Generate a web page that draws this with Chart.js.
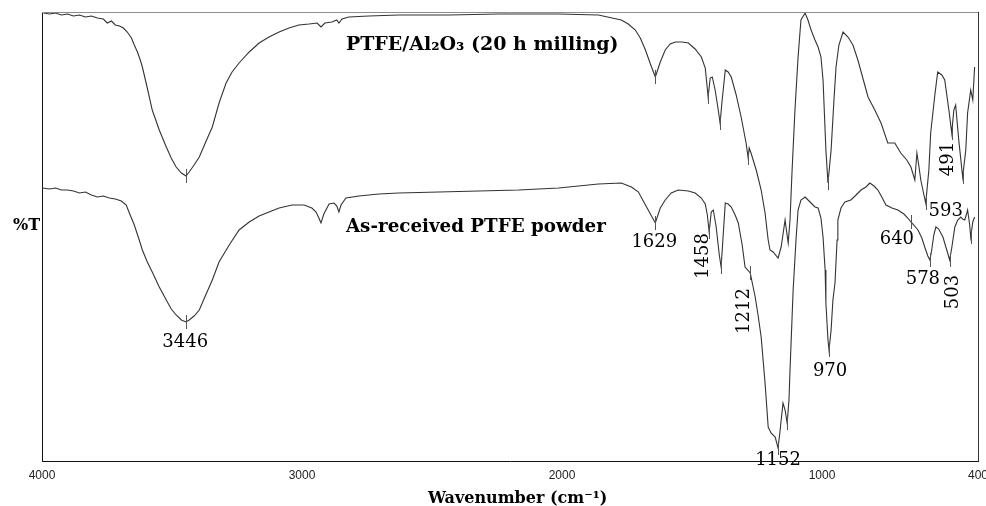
<!DOCTYPE html>
<html>
<head>
<meta charset="utf-8">
<title>FTIR PTFE</title>
<script src="https://cdn.jsdelivr.net/npm/chart.js@4.4.1/dist/chart.umd.min.js"></script>
<style>
    html, body { margin: 0; padding: 0; background: #fff; }
</style>
</head>
<body>
<canvas id="ftirChart" width="986" height="506"></canvas>
<script>
//Wavenumber ticks on the x axis
const wnTicks = [4000, 3000, 2000, 1000, 400];

//PTFE/Al2O3 (20 h milling), top trace
const millWn = [
    3994,3971,3948,3925,3902,3879,3856,3833,3810,3787,
    3764,3749,3733,3718,3702,3687,3672,3656,3645,3633,
    3622,3614,3595,3576,3549,3522,3503,3484,3464,3446,
    3434,3415,3395,3372,3345,3319,3292,3269,3242,3203,
    3165,3127,3088,3050,3012,2973,2942,2927,2912,2885,
    2866,2858,2846,2820,2743,2628,2436,2244,2013,1860,
    1772,1745,1718,1699,1679,1660,1641,1622,1603,1584,
    1564,1537,1514,1488,1464,1449,1438,1430,1422,1411,
    1399,1392,1384,1372,1361,1349,1330,1311,1292,1284,
    1280,1273,1253,1234,1219,1207,1200,1188,1169,1157,
    1142,1130,1123,1115,1104,1092,1081,1065,1054,1042,
    1027,1015,1004,996,985,977,965,954,946,935,
    919,900,881,862,843,823,797,773,747,720,
    697,674,658,643,635,628,620,608,601,589,
    582,566,555,539,528,512,501,493,486,474,
    459,447,440,428,420,413
];
const millT = [
    89.6,89.4,89.6,89.2,89.4,89.0,89.2,88.8,89.0,88.6,
    88.4,87.6,88.0,87.2,87.0,86.6,85.8,84.6,83.2,81.8,
    80.2,78.8,74.6,70.2,66.2,62.8,60.6,58.8,57.6,57.0,
    57.8,59.2,60.8,63.6,66.8,71.6,75.6,77.8,79.6,81.8,
    83.6,84.8,85.8,86.6,87.2,87.4,87.6,86.8,87.6,87.8,
    88.2,87.6,88.4,88.8,89.0,89.2,89.2,89.4,89.4,89.2,
    88.2,87.4,86.2,84.6,82.2,79.4,76.8,79.8,82.2,83.4,
    83.8,83.8,83.6,82.4,80.8,78.6,72.8,76.6,76.8,74.2,
    70.2,67.6,72.2,78.2,77.8,76.8,73.2,68.8,63.6,60.6,
    62.6,61.6,58.2,54.2,49.6,44.2,42.2,41.8,40.6,42.8,
    48.2,43.6,48.2,58.2,70.2,80.8,88.2,89.6,88.2,86.2,
    84.2,82.8,80.8,76.2,62.2,55.6,62.2,72.2,78.8,83.2,
    85.8,84.8,83.2,80.2,76.6,72.8,70.2,67.6,63.6,63.6,
    61.6,60.2,58.8,56.2,61.6,59.2,56.2,53.2,51.6,58.2,
    65.6,73.2,77.8,77.2,76.2,70.2,65.6,70.2,71.2,64.2,
    56.8,62.2,69.6,74.2,72.2,78.8
];

//As-received PTFE powder, bottom trace
const rawWn = [
    3998,3971,3948,3925,3902,3879,3856,3833,3810,3787,
    3764,3741,3718,3695,3676,3664,3645,3626,3614,3595,
    3576,3549,3522,3503,3484,3464,3446,3434,3415,3395,
    3372,3345,3319,3280,3242,3203,3165,3127,3088,3038,
    2992,2962,2946,2935,2927,2916,2896,2877,2866,2858,
    2850,2831,2781,2704,2628,2474,2321,2167,2013,1860,
    1772,1733,1706,1679,1660,1641,1622,1603,1580,1553,
    1514,1488,1464,1449,1441,1434,1426,1418,1407,1395,
    1388,1380,1372,1361,1349,1334,1322,1307,1296,1276,
    1257,1246,1234,1219,1207,1196,1180,1169,1161,1150,
    1142,1134,1127,1123,1111,1100,1092,1081,1065,1046,
    1027,1015,1004,996,988,985,977,973,965,958,
    950,942,939,927,912,889,869,850,831,816,
    800,785,770,754,731,708,685,670,658,647,
    631,616,605,593,585,578,570,562,551,535,
    520,509,501,489,478,466,459,451,443,440,
    432,428,420,413
];
const rawT = [
    54.6,54.4,54.6,54.2,54.2,54.0,53.6,53.8,53.2,52.8,
    53.0,52.6,52.4,52.0,51.2,49.6,47.2,44.2,42.2,39.8,
    37.8,34.8,32.2,30.4,29.2,28.2,27.8,28.2,29.0,30.2,
    33.0,36.2,39.8,43.2,46.2,47.8,49.0,49.8,50.6,51.2,
    51.2,50.6,49.8,48.6,47.6,49.4,51.4,51.6,51.0,49.8,
    51.2,52.6,53.0,53.4,53.6,53.8,54.0,54.2,54.6,55.4,
    55.6,54.8,53.8,51.2,49.4,47.6,50.6,52.2,53.6,54.2,
    54.0,53.6,52.6,51.4,49.2,45.8,49.8,50.2,46.8,41.2,
    38.8,45.2,51.6,51.4,50.8,49.2,47.6,43.2,38.8,37.6,
    32.8,29.2,24.8,15.6,6.8,5.6,4.8,2.6,6.2,11.6,
    10.2,7.6,12.2,18.2,34.2,44.2,50.2,52.2,52.8,51.8,
    50.8,50.6,48.6,44.8,38.2,31.6,24.2,22.2,26.2,32.2,
    35.6,44.2,48.2,50.6,51.8,52.2,53.2,54.2,54.8,55.6,
    55.0,54.2,52.8,51.2,50.6,50.2,49.4,48.6,47.8,47.2,
    46.2,44.6,42.8,41.0,40.2,42.2,45.2,46.8,46.4,44.8,
    42.2,40.2,42.6,46.8,48.2,48.8,48.4,48.2,49.6,50.2,
    47.2,44.8,47.8,48.8
];

//Peak picks (small vertical marks on the traces)
const millMarks = [3446, 1641, 1438, 1392, 1284, 977, 601, 501, 459];
const rawMarks = [3446, 1641, 1434, 1388, 1276, 1169, 1134, 973, 658, 585, 509, 428];

//Peak labels, anchored in data units
const peakText = ['3446', '1629', '1458', '1212', '1152', '970', '640', '578', '503', '593', '491'];
const peakWn   = [3449, 1645, 1457, 1299, 1169, 969, 712, 612, 493, 524, 516];
const peakT    = [23.8, 43.8, 41.0, 30.0, 0.2, 18.0, 44.4, 36.4, 33.8, 50.0, 60.4];
const rotatedPeaks = ['1458', '1212', '503', '491'];

const seriesNames = ['PTFE/Al\u2082O\u2083 (20 h milling)', 'As-received PTFE powder'];
const seriesNameWn = [2831, 2831];
const seriesNameT = [82.2, 45.8];

const serif = "'DejaVu Serif', 'Liberation Serif', serif";

function toPoints(wn, t) {
    return wn.map((w, i) => ({x: w, y: t[i]}));
}

const spectrumText = {
    id: 'spectrumText',
    afterDatasetsDraw(chart) {
        const {ctx, chartArea, scales: {x, y}} = chart;
        ctx.save();

        //top and right edges of the frame
        ctx.lineWidth = 1;
        ctx.strokeStyle = '#8c8c8c';
        ctx.beginPath();
        ctx.moveTo(chartArea.left, chartArea.top + 0.5);
        ctx.lineTo(chartArea.right + 1, chartArea.top + 0.5);
        ctx.stroke();
        ctx.strokeStyle = '#333';
        ctx.beginPath();
        ctx.moveTo(chartArea.right + 0.5, chartArea.top);
        ctx.lineTo(chartArea.right + 0.5, chartArea.bottom);
        ctx.stroke();

        //peak pick marks
        ctx.strokeStyle = '#555';
        const marks = [[millMarks, millWn, millT], [rawMarks, rawWn, rawT]];
        marks.forEach(([list, wn, t]) => {
            list.forEach(w => {
                const i = wn.indexOf(w);
                const px = Math.round(x.getPixelForValue(w)) + 0.5;
                const py = y.getPixelForValue(t[i]);
                ctx.beginPath();
                ctx.moveTo(px, py - 7);
                ctx.lineTo(px, py + 7);
                ctx.stroke();
            });
        });

        ctx.fillStyle = '#000';

        //series names
        ctx.textAlign = 'left';
        ctx.textBaseline = 'alphabetic';
        ctx.font = 'bold 19px ' + serif;
        ctx.fillText(seriesNames[0], x.getPixelForValue(seriesNameWn[0]), y.getPixelForValue(seriesNameT[0]));
        ctx.font = 'bold 18.3px ' + serif;
        ctx.fillText(seriesNames[1], x.getPixelForValue(seriesNameWn[1]), y.getPixelForValue(seriesNameT[1]));

        //peak labels
        ctx.font = '18px ' + serif;
        ctx.textAlign = 'center';
        ctx.textBaseline = 'middle';
        for (let i = 0; i < peakText.length; i++) {
            const px = x.getPixelForValue(peakWn[i]);
            const py = y.getPixelForValue(peakT[i]);
            if (rotatedPeaks.includes(peakText[i])) {
                ctx.save();
                ctx.translate(px, py);
                ctx.rotate(-Math.PI / 2);
                ctx.fillText(peakText[i], 0, 0);
                ctx.restore();
            } else {
                ctx.fillText(peakText[i], px, py);
            }
        }

        //axis titles
        ctx.textAlign = 'left';
        ctx.textBaseline = 'alphabetic';
        ctx.font = 'bold 16px ' + serif;
        ctx.fillText('%T', 13, 230);
        ctx.font = 'bold 16px ' + serif;
        ctx.fillText('Wavenumber (cm\u207B\u00B9)', 428, 503);

        ctx.restore();
    }
};

const data = {
    datasets: [{
        label: seriesNames[0],
        data: toPoints(millWn, millT),
        borderColor: '#333',
        borderWidth: 1.1,
        pointRadius: 0,
        tension: 0,
        fill: false
    }, {
        label: seriesNames[1],
        data: toPoints(rawWn, rawT),
        borderColor: '#333',
        borderWidth: 1.1,
        pointRadius: 0,
        tension: 0,
        fill: false
    }]
};

const config = {
    type: 'line',
    data: data,
    options: {
        responsive: false,
        animation: false,
        events: [],
        layout: {
            padding: {left: 0, right: 8, top: 12, bottom: 0}
        },
        scales: {
            x: {
                type: 'linear',
                min: 400,
                max: 4000,
                reverse: true,
                grid: {display: false, drawTicks: false},
                border: {display: true, color: '#111', width: 1},
                ticks: {
                    color: '#222',
                    padding: 7,
                    maxRotation: 0,
                    font: {family: "'Liberation Sans', Arial, sans-serif", size: 12},
                    callback: (value) => String(value)
                },
                afterBuildTicks: (scale) => {
                    scale.ticks = wnTicks.map(v => ({value: v}));
                },
                afterFit: (scale) => {
                    scale.height = 45;
                    scale.paddingLeft = 0;
                    scale.paddingRight = 0;
                }
            },
            y: {
                min: 0,
                max: 89.8,
                grid: {display: false, drawTicks: false},
                border: {display: true, color: '#111', width: 1},
                ticks: {display: false},
                afterFit: (scale) => {
                    scale.width = 42;
                }
            }
        },
        plugins: {
            legend: {display: false},
            tooltip: {enabled: false},
            title: {display: false}
        }
    },
    plugins: [spectrumText]
};

new Chart(document.getElementById('ftirChart'), config);
</script>
</body>
</html>
